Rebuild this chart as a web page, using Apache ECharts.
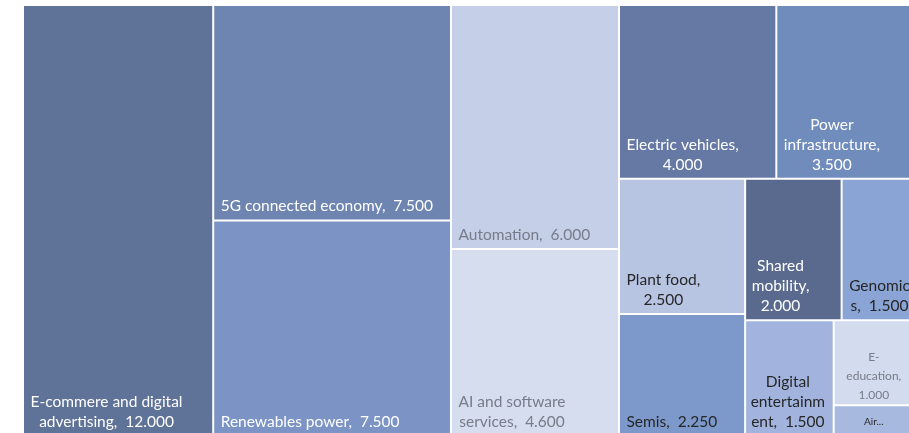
<!DOCTYPE html>
<html>
<head>
<meta charset="utf-8">
<script src="https://cdn.jsdelivr.net/npm/echarts@6/dist/echarts.min.js"></script>
<style>
  html, body { margin: 0; padding: 0; background: #fff; }
  #treemap_chart { width: 909px; height: 433px; }
</style>
</head>
<body>
<div id="treemap_chart"></div>
<script>
  // 板块名称与数值
  const names = ['E-commere and digital advertising', '5G connected economy', 'Renewables power', 'Automation',
    'AI and software services', 'Electric vehicles', 'Power infrastructure', 'Plant food', 'Semis',
    'Shared mobility', 'Genomics', 'Digital entertainment', 'E-education', 'Air...']
  const values = [12000, 7500, 7500, 6000, 4600, 4000, 3500, 2500, 2250, 2000, 1500, 1500, 1000, 360]
  // 标签折行方式（{v} 处填数值）
  const labelTexts = ['E-commere and digital\nadvertising,  {v}', '5G connected economy,  {v}', 'Renewables power,  {v}',
    'Automation,  {v}', 'AI and software\nservices,  {v}', 'Electric vehicles,\n{v}', 'Power\ninfrastructure,\n{v}',
    'Plant food,\n{v}', 'Semis,  {v}', 'Shared\nmobility,\n{v}', 'Genomic\ns,  {v}', 'Digital\nentertainm\nent,  {v}',
    'E-\neducation,\n{v}', 'Air...']
  // 分组嵌套（Excel 式切分顺序）
  const nesting = [0, [[1, 2], [[3, 4], [[5, 6], [[7, 8], [[9, 10], [11, [12, 13]]]]]]]]

  // 样式
  const colors = ['#5f7298', '#6d85b0', '#7b94c5', '#c5cfe7', '#d6ddee', '#6679a4', '#708cbd', '#b7c5e3',
    '#7d99cc', '#596a8e', '#8aa4d5', '#a2b4dd', '#d3dbee', '#a8b9df']
  const textColors = ['#fff', '#fff', '#fff', '#767c89', '#767c89', '#fff', '#fff', '#262626',
    '#262626', '#fff', '#262626', '#262626', '#767c89', '#262626']
  const fontSizes = [15.5, 15.5, 15.5, 15.5, 15.5, 15.5, 15.5, 15.5, 15.5, 15.5, 15.5, 15.5, 12, 10]
  const lineHeights = [20, 20, 20, 20, 20, 20, 20, 20, 20, 20, 20, 20, 19, 14]
  const padBottom = [3, 3, 3, 3, 3, 3, 3, 3, 3, 3, 3, 3, 0, 6]
  const padLeft = [6, 6, 6, 6, 6, 6, 6, 6, 6, 5, 6, 4, 0, 0]
  const centered = [0, 0, 0, 0, 0, 0, 0, 0, 0, 0, 0, 0, 1, 1]
  const FONT = 'Lato'

  const measureCtx = document.createElement('canvas').getContext('2d')

  function fmt (v) {
    return String(v).replace(/\B(?=(\d{3})+(?!\d))/g, '.')
  }

  function linesOf (i) {
    return labelTexts[i].replace('{v}', fmt(values[i])).split('\n')
  }

  // 根据库算出的格子尺寸，把文字块推到左下角
  function calcPadding (i, layout) {
    const lines = linesOf(i)
    measureCtx.font = fontSizes[i] + 'px ' + FONT
    const blockW = Math.max.apply(null, lines.map(function (s) { return measureCtx.measureText(s).width }))
    const bw = layout.borderWidth || 0
    const cw = layout.width - 2 * bw
    const ch = layout.height - 2 * bw
    const top = Math.max(ch - lines.length * lineHeights[i] - padBottom[i] - 0.05, 0)
    let left = padLeft[i]
    let right = Math.max(cw - left - blockW - 1, 0)
    if (centered[i]) {
      left = right = Math.max((cw - blockW - 1) / 2, 0)
    }
    return [top, right, padBottom[i], left]
  }

  function build (node, paddings) {
    if (typeof node === 'number') {
      const i = node
      const label = {
        show: true,
        color: textColors[i],
        fontSize: fontSizes[i],
        lineHeight: lineHeights[i],
        formatter: linesOf(i).map(function (s) { return '{c|' + s + '}' }).join('\n')
      }
      if (paddings && paddings[i]) label.padding = paddings[i]
      return {
        name: names[i],
        value: values[i],
        itemStyle: { color: colors[i], borderWidth: 1, borderColor: '#fff' },
        label: label
      }
    }
    const children = node.map(function (n) { return build(n, paddings) })
    return {
      name: '',
      value: children.reduce(function (a, c) { return a + c.value }, 0),
      itemStyle: { borderWidth: 0, gapWidth: 0 },
      label: { show: false },
      children: children
    }
  }

  const myChart = echarts.init(document.getElementById('treemap_chart'))
  const option = {
    animation: false,
    series: [
      {
        type: 'treemap',
        left: 23,
        top: 5,
        width: 891,
        height: 431,
        sort: false,
        squareRatio: 1,
        roam: false,
        nodeClick: false,
        breadcrumb: { show: false },
        label: {
          position: 'insideTopLeft',
          distance: 0,
          fontFamily: FONT,
          overflow: 'none',
          rich: {
            c: { align: 'center' }
          }
        },
        data: build(nesting).children
      }
    ]
  }
  myChart.setOption(option)

  // 第二遍：读取各格子布局，设置标签内边距
  const seriesData = myChart.getModel().getSeriesByIndex(0).getData()
  const paddings = {}
  for (let k = 0; k < seriesData.count(); k++) {
    const idx = names.indexOf(seriesData.getName(k))
    const layout = seriesData.getItemLayout(k)
    if (idx >= 0 && layout) paddings[idx] = calcPadding(idx, layout)
  }
  myChart.setOption({ series: [{ data: build(nesting, paddings).children }] })
</script>
</body>
</html>
